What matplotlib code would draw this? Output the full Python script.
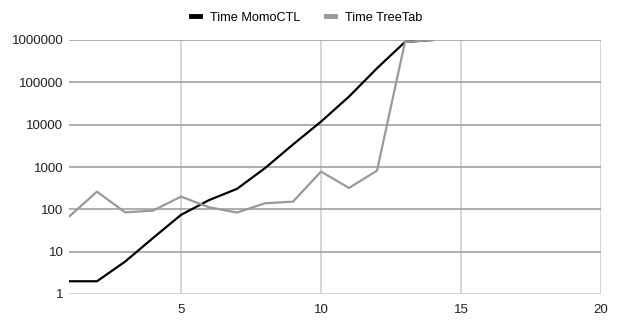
import matplotlib
matplotlib.use("Agg")
import matplotlib.pyplot as plt
from matplotlib.ticker import FixedLocator, FuncFormatter

plt.rcParams['font.family'] = ['Liberation Sans', 'DejaVu Sans']

# data
x = list(range(1, 15))
momo = [2, 2, 5.8, 21, 74, 165, 305, 940, 3400, 11800, 46000, 215000, 900000, 1000000]
treetab = [67, 262, 85, 93, 200, 112, 84, 139, 152, 780, 320, 820, 900000, 1000000]

fig = plt.figure(figsize=(6.21, 3.21), dpi=100)
ax = fig.add_axes([69 / 621, 1 - 294 / 321, (601 - 69) / 621, (294 - 40) / 321])

ax.plot(x, momo, color='black', lw=1.6, label='Time MomoCTL', zorder=3)
ax.plot(x, treetab, color='#999999', lw=1.6, label='Time TreeTab', zorder=3)

ax.set_yscale('log')
ax.set_xlim(1, 20)
ax.set_ylim(1, 1000000)

yt = [1, 10, 100, 1000, 10000, 100000, 1000000]
ax.yaxis.set_major_locator(FixedLocator(yt))
ax.yaxis.set_minor_locator(FixedLocator([]))
ax.yaxis.set_major_formatter(FuncFormatter(lambda v, p: '%d' % round(v)))
ax.set_xticks([5, 10, 15, 20])

for v in yt:
    ax.axhline(v, color='#cccccc' if v == 1 else '#999999', lw=1.1, zorder=1)
for v in [5, 10, 15, 20]:
    ax.axvline(v, color='#cccccc', lw=1.1, zorder=0)

for s in ax.spines.values():
    s.set_visible(False)
ax.tick_params(length=0, labelsize=9.6, colors='#222222')
ax.tick_params(axis='y', pad=4)
ax.tick_params(axis='x', pad=7)

fig.legend(loc='upper center', bbox_to_anchor=(0.494, 1.0), ncol=2, frameon=False,
           fontsize=9.2, handlelength=0.7, handletextpad=0.8, columnspacing=2.0)
leg = fig.legends[0]
for line in leg.get_lines():
    line.set_linewidth(3.5)

fig.savefig('out.png', dpi=100)
